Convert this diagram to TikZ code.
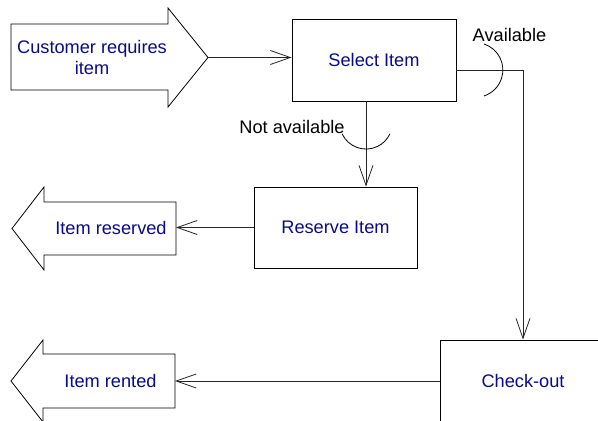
\documentclass[tikz,border=0pt]{standalone}
\usepackage{fontspec}
\setmainfont{Liberation Sans}
\usetikzlibrary{arrows.meta}
\definecolor{labelblue}{RGB}{10,10,140}
\tikzset{
  every node/.style={font=\fontsize{18.2}{21}\selectfont},
  stepbox/.style={draw=black, line width=0.9pt, minimum width=164pt, minimum height=82pt, text=labelblue, inner sep=0pt},
  bigarrow/.style={draw=black, line width=0.8pt, fill=white},
  flow/.style={draw=black!85, line width=0.8pt, -{Straight Barb[length=20pt,width=14pt,line width=0.8pt]}},
  guard/.style={draw=black, line width=0.8pt},
  cond/.style={text=black, inner sep=0pt},
  blockarrowtext/.style={text=labelblue, align=center, inner sep=0pt}
}
\begin{document}
\begin{tikzpicture}[x=1pt,y=-1pt]
\path[use as bounding box] (0,0) rectangle (598,421);
\clip (0,0) rectangle (598,421);

% process boxes
\node[stepbox] (sel) at (374,60) {Select Item};
\node[stepbox, minimum width=163pt, minimum height=81pt] (res) at (335.5,227.5) {Reserve Item};
\node[stepbox, minimum width=166pt] (chk) at (523,381) {Check-out};

% incoming block arrow
\draw[bigarrow] (11,24) -- (168,24) -- (168,8) -- (208,57.5) -- (168,107) -- (168,90) -- (11,90) -- cycle;
\coordinate (cust) at (208,57.5);
\node[blockarrowtext] (custtext) at (92,57) {Customer requires\\item};

% outgoing block arrows
\draw[bigarrow] (176,202) -- (44,202) -- (44,187) -- (12,228.5) -- (44,270) -- (44,255) -- (176,255) -- cycle;
\coordinate (resd) at (176,228.5);
\node[blockarrowtext] (resdtext) at (111,228) {Item reserved};

\draw[bigarrow] (175,354) -- (43,354) -- (43,340) -- (11,381) -- (43,422) -- (43,408) -- (175,408) -- cycle;
\coordinate (rent) at (175,381);
\node[blockarrowtext] (renttext) at (110.5,381) {Item rented};

% connectors
\draw[flow] (cust) -- (cust -| sel.west);

\coordinate (navx) at (366,0);
\draw[flow] (sel.south -| navx) -- (res.north -| navx);

\coordinate (avy) at (0,70);
\draw[flow] (sel.east |- avy) -| (chk.north);

\draw[flow] (res.west) -- (res.west -| resd);
\draw[flow] (chk.west) -- (chk.west -| rent);

% condition guards
\draw[guard] (484,44) arc[start angle=72, end angle=-72, radius=27.3pt];
\node[cond] (avail) at (509.5,35) {Available};

\draw[guard] (342.1,133.8) arc[start angle=205, end angle=335, radius=26.4pt];
\node[cond] (notavail) at (292,127) {Not available};
\end{tikzpicture}
\end{document}
